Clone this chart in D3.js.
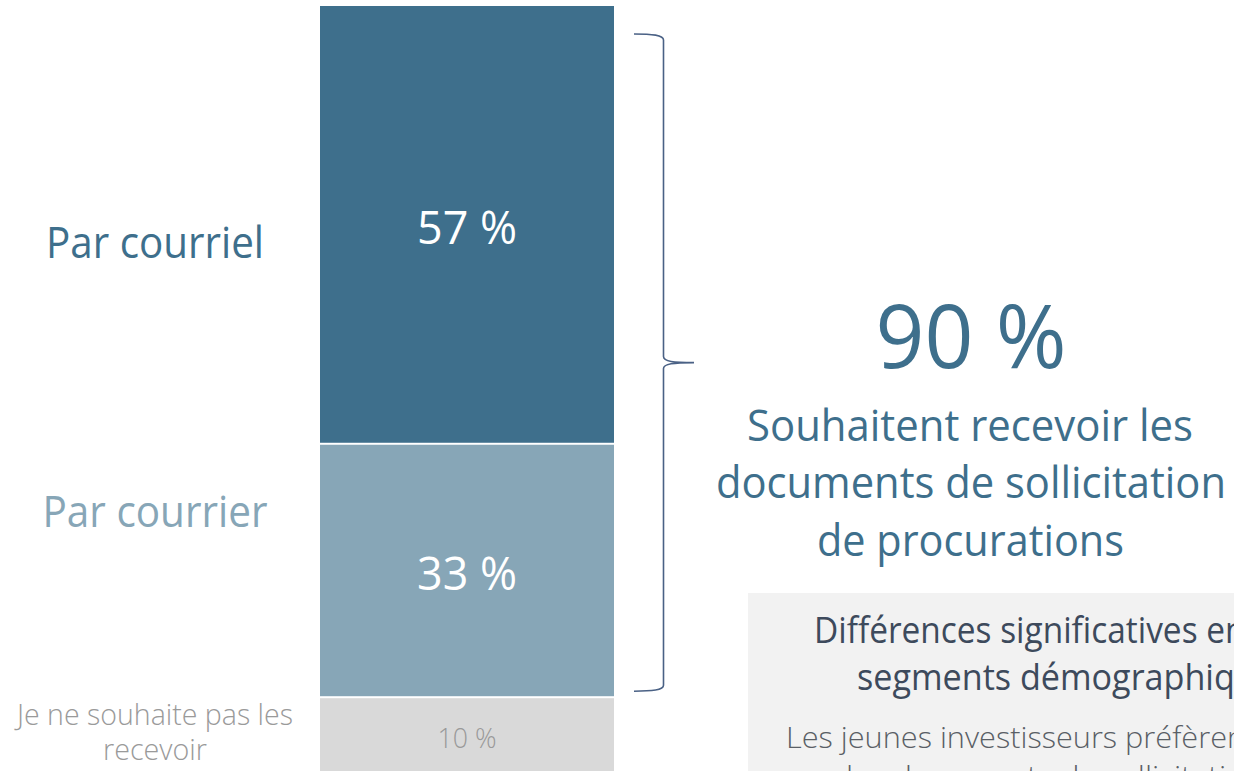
<!DOCTYPE html>
<html>
<head>
<meta charset="utf-8">
<script src="https://cdn.jsdelivr.net/npm/d3@7"></script>
<style>
  html, body { margin: 0; padding: 0; background: #ffffff; overflow: hidden; }
  svg { display: block; }
  text { font-family: "Open Sans", "Noto Sans", sans-serif; }
</style>
</head>
<body>
<svg id="chart" width="1234" height="771"></svg>
<script>
// Preferred channel for receiving proxy solicitation documents (share of respondents)
const categories = ["Par courriel", "Par courrier", "Je ne souhaite pas les recevoir"];
const values = [57, 33, 10];
const valueLabels = ["57 %", "33 %", "10 %"];
const segmentColors = ["#3e6f8c", "#87a6b7", "#d9d9d9"];

const totalWanting = "90 %";
const totalLines = ["Souhaitent recevoir les", "documents de sollicitation", "de procurations"];
const boxTitleLines = ["Différences significatives entre les", "segments démographiques"];
const boxBodyLines = ["Les jeunes investisseurs préfèrent recevoir", "les documents de sollicitation par courriel"];

const svg = d3.select("#chart");

// Stacked single bar
const y = d3.scaleLinear().domain([0, 100]).range([6, 774]);
const x = d3.scaleBand().domain(["total"]).range([320, 614]).padding(0);

let acc = 0;
const stack = values.map((v, i) => {
  const s = { cat: categories[i], v, y0: acc, y1: acc + v, i };
  acc += v;
  return s;
});

// thin white separation between stacked segments
const gap = 2;
const last = stack.length - 1;
svg.append("g").selectAll("rect")
  .data(stack)
  .join("rect")
  .attr("x", x("total"))
  .attr("width", x.bandwidth())
  .attr("y", d => y(d.y0) + (d.i > 0 ? gap / 2 : 0))
  .attr("height", d => (y(d.y1) - (d.i < last ? gap / 2 : 0)) - (y(d.y0) + (d.i > 0 ? gap / 2 : 0)))
  .attr("fill", d => segmentColors[d.i]);

// Fit a text element to a target width (given for the whole string or a prefix)
function fitWidth(sel, fullText, targetWidth, prefix) {
  const node = sel.node();
  const natural = node.getComputedTextLength();
  let factor;
  if (prefix) {
    const tmp = svg.append("text")
      .attr("font-size", sel.attr("font-size"))
      .attr("font-weight", sel.attr("font-weight"))
      .text(prefix);
    factor = targetWidth / tmp.node().getComputedTextLength();
    tmp.remove();
  } else {
    factor = targetWidth / natural;
  }
  sel.attr("textLength", natural * factor).attr("lengthAdjust", "spacingAndGlyphs");
}

// Value labels inside segments
const labelSpec = [
  { baseline: 244, size: 46, color: "#ffffff", weight: 400, width: 100 },
  { baseline: 590, size: 46, color: "#ffffff", weight: 400, width: 100 },
  { baseline: 748, size: 28, color: "#9a9a9a", weight: 300, width: 59 }
];
stack.forEach((d, i) => {
  const t = svg.append("text")
    .attr("x", x("total") + x.bandwidth() / 2)
    .attr("y", labelSpec[i].baseline)
    .attr("text-anchor", "middle")
    .attr("font-size", labelSpec[i].size)
    .attr("font-weight", labelSpec[i].weight)
    .attr("fill", labelSpec[i].color)
    .text(valueLabels[i]);
  fitWidth(t, valueLabels[i], labelSpec[i].width);
});

// Category labels on the left
const catSpec = [
  { lines: [categories[0]], cx: 155, baselines: [258], size: 43, color: "#3e6f8c", weight: 400, widths: [218] },
  { lines: [categories[1]], cx: 155, baselines: [527], size: 43, color: "#87a6b7", weight: 400, widths: [225] },
  { lines: ["Je ne souhaite pas les", "recevoir"], cx: 155, baselines: [725, 760], size: 29, color: "#9a9a9a", weight: 300, widths: [276, 104] }
];
catSpec.forEach(c => {
  c.lines.forEach((ln, j) => {
    const t = svg.append("text")
      .attr("x", c.cx)
      .attr("y", c.baselines[j])
      .attr("text-anchor", "middle")
      .attr("font-size", c.size)
      .attr("font-weight", c.weight)
      .attr("fill", c.color)
      .text(ln);
    fitWidth(t, ln, c.widths[j]);
  });
});

// Curly brace grouping the two "yes" segments
const braceTop = y(0) + 28;
const braceBot = y(values[0] + values[1]) - 6;
const braceMid = (braceTop + braceBot) / 2;
const bx0 = 634, bx1 = 663.5, bTip = 694;
const p = d3.path();
p.moveTo(bx0, braceTop);
p.bezierCurveTo(bx0 + 18, braceTop, bx1, braceTop + 1, bx1, braceTop + 6);
p.lineTo(bx1, braceMid - 6);
p.bezierCurveTo(bx1, braceMid - 1, bx1 + 10, braceMid, bTip, braceMid);
p.bezierCurveTo(bx1 + 10, braceMid, bx1, braceMid + 1, bx1, braceMid + 6);
p.lineTo(bx1, braceBot - 6);
p.bezierCurveTo(bx1, braceBot - 1, bx0 + 18, braceBot, bx0, braceBot);
svg.append("path")
  .attr("d", p.toString())
  .attr("fill", "none")
  .attr("stroke", "#4a6185")
  .attr("stroke-width", 1.6);

// Total annotation
const big = svg.append("text")
  .attr("x", 971).attr("y", 368)
  .attr("text-anchor", "middle")
  .attr("font-size", 88)
  .attr("fill", "#3e6f8c")
  .text(totalWanting);
fitWidth(big, totalWanting, 191);

const totalSpec = [
  { cx: 970, baseline: 441, width: 446 },
  { cx: 971, baseline: 498, width: 510 },
  { cx: 970.5, baseline: 556, width: 307 }
];
totalLines.forEach((ln, i) => {
  const t = svg.append("text")
    .attr("x", totalSpec[i].cx).attr("y", totalSpec[i].baseline)
    .attr("text-anchor", "middle")
    .attr("font-size", 43)
    .attr("fill", "#3e6f8c")
    .text(ln);
  fitWidth(t, ln, totalSpec[i].width);
});

// Grey insight box
svg.append("rect")
  .attr("x", 748).attr("y", 593)
  .attr("width", 600).attr("height", 300)
  .attr("fill", "#f2f2f2");

const titleSpec = [
  { x: 814, baseline: 643, prefix: "Différences significatives e", prefixWidth: 411 },
  { x: 857, baseline: 690, prefix: "segments démographi", prefixWidth: 357 }
];
boxTitleLines.forEach((ln, i) => {
  const t = svg.append("text")
    .attr("x", titleSpec[i].x).attr("y", titleSpec[i].baseline)
    .attr("font-size", 37)
    .attr("fill", "#3d4a5c")
    .text(ln);
  fitWidth(t, ln, titleSpec[i].prefixWidth, titleSpec[i].prefix);
});

const bodySpec = [
  { x: 786, baseline: 748, prefix: "Les jeunes investisseurs préfère", prefixWidth: 441 },
  { x: 846, baseline: 787, prefix: "les documents de sollicitati", prefixWidth: 380 }
];
boxBodyLines.forEach((ln, i) => {
  const t = svg.append("text")
    .attr("x", bodySpec[i].x).attr("y", bodySpec[i].baseline)
    .attr("font-size", 30)
    .attr("font-weight", 300)
    .attr("fill", "#5a5f66")
    .text(ln);
  fitWidth(t, ln, bodySpec[i].prefixWidth, bodySpec[i].prefix);
});
</script>
</body>
</html>
